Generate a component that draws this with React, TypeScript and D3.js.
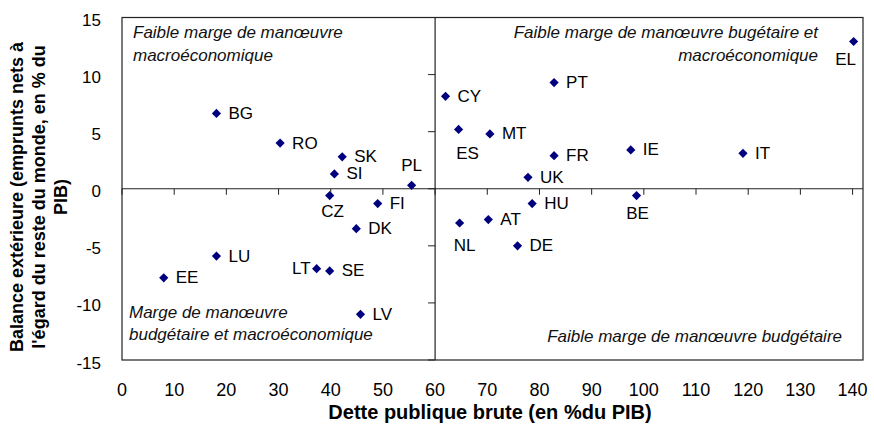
import { useMemo } from "react";
import * as d3 from "d3";

const WIDTH = 874;
const HEIGHT = 429;
const PLOT = { left: 122, top: 17.5, right: 863, bottom: 360 };

// Pays et valeurs
const countries = ["BG", "RO", "SK", "SI", "PL", "CZ", "FI", "DK", "LU", "EE", "LT", "SE", "LV",
    "EL", "CY", "PT", "ES", "MT", "FR", "IE", "IT", "UK", "BE", "HU", "AT", "NL", "DE"];
const debt = [18.1, 30.3, 42.2, 40.7, 55.5, 39.8, 49.0, 44.9, 18.1, 8.0, 37.3, 39.8, 45.7,
    140.2, 62.0, 82.8, 64.5, 70.5, 82.8, 97.5, 119.0, 77.8, 98.6, 78.6, 70.2, 64.7, 75.8];
const balance = [6.6, 4.0, 2.8, 1.3, 0.3, -0.6, -1.3, -3.5, -5.9, -7.8, -7.0, -7.2, -11.0,
    12.9, 8.1, 9.3, 5.2, 4.8, 2.9, 3.4, 3.1, 1.0, -0.6, -1.3, -2.7, -3.0, -5.0];

const xTicks = [0, 10, 20, 30, 40, 50, 60, 70, 80, 90, 100, 110, 120, 130, 140];
const yTicks = [-15, -10, -5, 0, 5, 10, 15];

const xTitle = "Dette publique brute (en %du PIB)";
const yTitle = ["Balance extérieure (emprunts nets à", "l'égard du reste du monde, en % du", "PIB)"];

// label placement (pixels) when not simply to the right of the marker
const LABEL_POS: Record<string, { dx: number; dy: number; anchor: string }> = {
    PL: { dx: 0, dy: -20, anchor: "middle" },
    CZ: { dx: 3, dy: 16, anchor: "middle" },
    LT: { dx: -6, dy: 0, anchor: "end" },
    EL: { dx: -8, dy: 18, anchor: "middle" },
    ES: { dx: 9, dy: 24, anchor: "middle" },
    BE: { dx: 1, dy: 18, anchor: "middle" },
    NL: { dx: 5, dy: 22, anchor: "middle" },
};

const FONT = "Liberation Sans, Arial, sans-serif";
const MARKER = "#00007f";

export default function App() {
    const xScale = useMemo(() => d3.scaleLinear().domain([0, 142]).range([PLOT.left, PLOT.right]), []);
    const yScale = useMemo(() => d3.scaleLinear().domain([-15, 15]).range([PLOT.bottom, PLOT.top]), []);

    const x0 = xScale(60);
    const y0 = yScale(0);
    const r = 4.6;

    const points = countries.map((c, i) => {
        const cx = xScale(debt[i]);
        const cy = yScale(balance[i]);
        const pos = LABEL_POS[c] || { dx: 12, dy: 0, anchor: "start" };
        return (
            <g key={c}>
                <path
                    d={`M${cx},${cy - r}L${cx + r},${cy}L${cx},${cy + r}L${cx - r},${cy}Z`}
                    fill={MARKER}
                />
                <text
                    x={cx + pos.dx}
                    y={cy + pos.dy}
                    textAnchor={pos.anchor as any}
                    dominantBaseline="central"
                    fontSize={17}
                >
                    {c}
                </text>
            </g>
        );
    });

    return (
        <svg
            width={WIDTH}
            height={HEIGHT}
            style={{ position: "absolute", left: 0, top: 0, background: "#fff" }}
            fontFamily={FONT}
        >
            <rect
                x={PLOT.left}
                y={PLOT.top}
                width={PLOT.right - PLOT.left}
                height={PLOT.bottom - PLOT.top}
                fill="#fff"
                stroke="#222"
                strokeWidth={1.2}
            />
            {/* axes crossing at (60, 0) */}
            <line x1={PLOT.left} x2={PLOT.right} y1={y0} y2={y0} stroke="#222" strokeWidth={1.2} />
            <line x1={x0} x2={x0} y1={PLOT.top} y2={PLOT.bottom} stroke="#222" strokeWidth={1.2} />
            {xTicks.map((t) => (
                <line key={"xt" + t} x1={xScale(t)} x2={xScale(t)} y1={y0} y2={y0 + 6} stroke="#222" />
            ))}
            {yTicks.map((t) => (
                <line key={"yt" + t} x1={x0 - 7} x2={x0} y1={yScale(t)} y2={yScale(t)} stroke="#222" />
            ))}

            {/* tick labels */}
            {xTicks.map((t) => (
                <text key={"xl" + t} x={xScale(t)} y={390} textAnchor="middle" dominantBaseline="central" fontSize={18}>
                    {t}
                </text>
            ))}
            {yTicks.map((t) => (
                <text key={"yl" + t} x={101} y={yScale(t) + 3} textAnchor="end" dominantBaseline="central" fontSize={17}>
                    {t}
                </text>
            ))}

            {/* quadrant notes */}
            <g fontStyle="italic" fontSize={17} fill="#111">
                <text x={133} y={38}>Faible marge de manœuvre</text>
                <text x={133} y={60.5}>macroéconomique</text>
                <text x={818} y={38} textAnchor="end">Faible marge de manœuvre bugétaire et</text>
                <text x={818} y={60.5} textAnchor="end">macroéconomique</text>
                <text x={129} y={318}>Marge de manœuvre</text>
                <text x={129} y={339.5}>budgétaire et macroéconomique</text>
                <text x={842} y={341.5} textAnchor="end">Faible marge de manœuvre budgétaire</text>
            </g>

            {points}

            {/* axis titles */}
            <text x={490} y={419} textAnchor="middle" fontWeight="bold" fontSize={20}>
                {xTitle}
            </text>
            <g transform="translate(0,197) rotate(-90)" fontWeight="bold" fontSize={18} textAnchor="middle">
                {yTitle.map((line, i) => (
                    <text key={i} x={0} y={23 + i * 22}>
                        {line}
                    </text>
                ))}
            </g>
        </svg>
    );
}
